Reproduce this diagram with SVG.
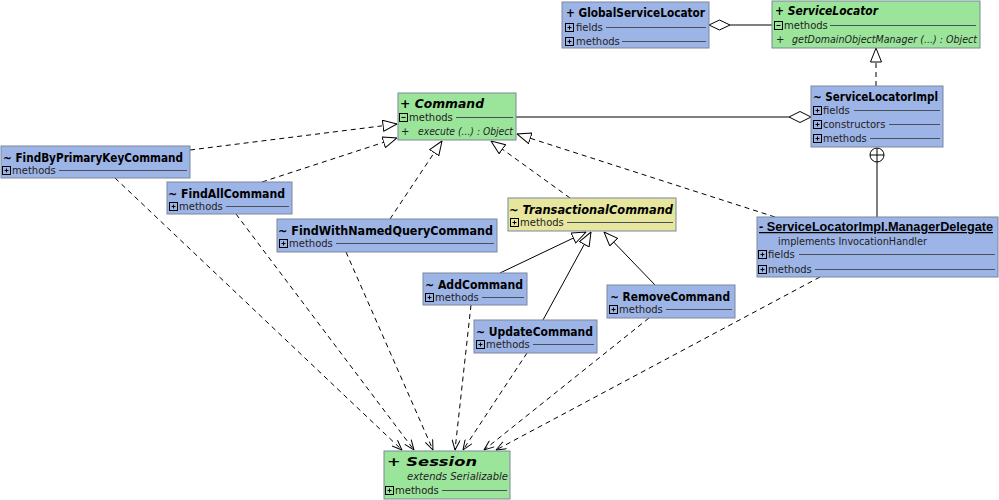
<svg xmlns="http://www.w3.org/2000/svg" width="999" height="500" viewBox="0 0 999 500">
<defs>
<style>
.box{stroke:#7c879c;stroke-width:1}
.blue{fill:#9db4e6}
.green{fill:#9be59b}
.yellow{fill:#e6e69e}
.title{font-family:"DejaVu Sans",sans-serif;font-size:13px;font-weight:bold;fill:#000}
.ital{font-style:italic}
.row{font-family:"DejaVu Sans",sans-serif;font-size:10px;fill:#222}
.sep{stroke:#4a4f5c;stroke-width:1}
.icon{fill:none;stroke:#000;stroke-width:1}
.solid{fill:none;stroke:#000;stroke-width:1}
.dash{fill:none;stroke:#000;stroke-width:1;stroke-dasharray:5,4}
</style>
<marker id="tri" viewBox="0 0 15 12" refX="14.5" refY="6" markerWidth="15" markerHeight="12" markerUnits="userSpaceOnUse" orient="auto">
<path d="M0.5,0.5 L14.5,6 L0.5,11.5 Z" fill="#fff" stroke="#000" stroke-width="1" stroke-dasharray="none"/>
</marker>
<marker id="open" viewBox="0 0 11 9" refX="10.5" refY="4.5" markerWidth="11" markerHeight="9" markerUnits="userSpaceOnUse" orient="auto">
<path d="M0.5,0.5 L10.5,4.5 L0.5,8.5" fill="none" stroke="#000" stroke-width="1" stroke-dasharray="none"/>
</marker>
</defs>
<rect x="0" y="0" width="999" height="500" fill="#fff"/>

<g id="connectors">
<line class="solid" x1="730" y1="25" x2="772" y2="25"/>
<polygon points="709,25 719.5,20 730,25 719.5,30" fill="#fff" stroke="#000"/>
<line class="dash" x1="876" y1="86" x2="876" y2="48" marker-end="url(#tri)"/>
<line class="solid" x1="516" y1="117" x2="789" y2="117"/>
<polygon points="789,117 800,111.5 811,117 800,122.5" fill="#fff" stroke="#000"/>
<line class="solid" x1="877" y1="162" x2="877" y2="217"/>
<circle cx="877" cy="155" r="7" fill="#fff" stroke="#000"/>
<line class="solid" x1="870" y1="155" x2="884" y2="155"/>
<line class="solid" x1="877" y1="148" x2="877" y2="162"/>
<line class="dash" x1="190" y1="150" x2="397" y2="124" marker-end="url(#tri)"/>
<line class="dash" x1="262" y1="182" x2="397" y2="138" marker-end="url(#tri)"/>
<line class="dash" x1="390" y1="219" x2="442" y2="141" marker-end="url(#tri)"/>
<line class="dash" x1="570" y1="198" x2="491" y2="141" marker-end="url(#tri)"/>
<line class="dash" x1="775" y1="217" x2="517" y2="134" marker-end="url(#tri)"/>
<line class="solid" x1="500" y1="273" x2="586" y2="232" marker-end="url(#tri)"/>
<line class="solid" x1="543" y1="320" x2="591" y2="232" marker-end="url(#tri)"/>
<line class="solid" x1="655" y1="285" x2="604" y2="232" marker-end="url(#tri)"/>
<line class="dash" x1="115" y1="178" x2="402" y2="450" marker-end="url(#open)"/>
<line class="dash" x1="236" y1="214" x2="414" y2="450" marker-end="url(#open)"/>
<line class="dash" x1="346" y1="252" x2="433" y2="450" marker-end="url(#open)"/>
<line class="dash" x1="471" y1="305" x2="455" y2="450" marker-end="url(#open)"/>
<line class="dash" x1="527" y1="353" x2="463" y2="450" marker-end="url(#open)"/>
<line class="dash" x1="649" y1="318" x2="484" y2="450" marker-end="url(#open)"/>
<line class="dash" x1="820" y1="277" x2="496" y2="450" marker-end="url(#open)"/>
</g>

<g id="GlobalServiceLocator">
<rect class="box blue" x="562" y="2" width="147" height="46"/>
<text class="title" x="566" y="17" textLength="139" lengthAdjust="spacingAndGlyphs">+ GlobalServiceLocator</text>
<rect class="icon" x="565.5" y="23.5" width="8" height="8"/><path class="icon" d="M567.5,27.5 H571.5 M569.5,25.5 V29.5"/>
<text class="row" x="576" y="31">fields</text>
<line class="sep" x1="606" y1="27.5" x2="706" y2="27.5"/>
<rect class="icon" x="565.5" y="37.5" width="8" height="8"/><path class="icon" d="M567.5,41.5 H571.5 M569.5,39.5 V43.5"/>
<text class="row" x="576" y="45">methods</text>
<line class="sep" x1="622" y1="41.5" x2="706" y2="41.5"/>
</g>

<g id="ServiceLocator">
<rect class="box green" x="772" y="1" width="208" height="47"/>
<text class="title ital" x="775" y="15" textLength="103" lengthAdjust="spacingAndGlyphs">+ ServiceLocator</text>
<rect class="icon" x="774.5" y="21.5" width="8" height="8"/><path class="icon" d="M776.5,25.5 H780.5"/>
<text class="row" x="784" y="29">methods</text>
<line class="sep" x1="830" y1="25.5" x2="976" y2="25.5"/>
<text class="row ital" x="776" y="43">+</text>
<text class="row ital" x="792" y="43" textLength="185" lengthAdjust="spacingAndGlyphs">getDomainObjectManager (...) : Object</text>
</g>

<g id="Command">
<rect class="box green" x="398" y="93" width="118" height="47"/>
<text class="title ital" x="400" y="108" textLength="84" lengthAdjust="spacingAndGlyphs">+ Command</text>
<rect class="icon" x="399.5" y="113.5" width="8" height="8"/><path class="icon" d="M401.5,117.5 H405.5"/>
<text class="row" x="409" y="121">methods</text>
<line class="sep" x1="456" y1="117.5" x2="513" y2="117.5"/>
<text class="row ital" x="401" y="135">+</text>
<text class="row ital" x="418" y="135" textLength="95" lengthAdjust="spacingAndGlyphs">execute (...) : Object</text>
</g>

<g id="ServiceLocatorImpl">
<rect class="box blue" x="811" y="86" width="132" height="61"/>
<text class="title" x="813" y="101" textLength="125" lengthAdjust="spacingAndGlyphs">~ ServiceLocatorImpl</text>
<rect class="icon" x="813.5" y="106.5" width="8" height="8"/><path class="icon" d="M815.5,110.5 H819.5 M817.5,108.5 V112.5"/>
<text class="row" x="823" y="114">fields</text>
<line class="sep" x1="854" y1="110.5" x2="940" y2="110.5"/>
<rect class="icon" x="813.5" y="120.5" width="8" height="8"/><path class="icon" d="M815.5,124.5 H819.5 M817.5,122.5 V126.5"/>
<text class="row" x="823" y="128">constructors</text>
<line class="sep" x1="889" y1="124.5" x2="940" y2="124.5"/>
<rect class="icon" x="813.5" y="134.5" width="8" height="8"/><path class="icon" d="M815.5,138.5 H819.5 M817.5,136.5 V140.5"/>
<text class="row" x="823" y="142">methods</text>
<line class="sep" x1="870" y1="138.5" x2="940" y2="138.5"/>
</g>

<g id="FindByPrimaryKeyCommand">
<rect class="box blue" x="1" y="146" width="189" height="32"/>
<text class="title" x="3" y="162" textLength="180" lengthAdjust="spacingAndGlyphs">~ FindByPrimaryKeyCommand</text>
<rect class="icon" x="2.5" y="166.5" width="8" height="8"/><path class="icon" d="M4.5,170.5 H8.5 M6.5,168.5 V172.5"/>
<text class="row" x="12" y="174">methods</text>
<line class="sep" x1="59" y1="170.5" x2="187" y2="170.5"/>
</g>

<g id="FindAllCommand">
<rect class="box blue" x="167" y="182" width="125" height="32"/>
<text class="title" x="168" y="198" textLength="117" lengthAdjust="spacingAndGlyphs">~ FindAllCommand</text>
<rect class="icon" x="169.5" y="202.5" width="8" height="8"/><path class="icon" d="M171.5,206.5 H175.5 M173.5,204.5 V208.5"/>
<text class="row" x="179" y="210">methods</text>
<line class="sep" x1="226" y1="206.5" x2="289" y2="206.5"/>
</g>

<g id="FindWithNamedQueryCommand">
<rect class="box blue" x="277" y="219" width="220" height="33"/>
<text class="title" x="278" y="235" textLength="215" lengthAdjust="spacingAndGlyphs">~ FindWithNamedQueryCommand</text>
<rect class="icon" x="279.5" y="239.5" width="8" height="8"/><path class="icon" d="M281.5,243.5 H285.5 M283.5,241.5 V245.5"/>
<text class="row" x="289" y="247">methods</text>
<line class="sep" x1="336" y1="243.5" x2="494" y2="243.5"/>
</g>

<g id="TransactionalCommand">
<rect class="box yellow" x="508" y="198" width="168" height="33"/>
<text class="title ital" x="509" y="214" textLength="164" lengthAdjust="spacingAndGlyphs">~ TransactionalCommand</text>
<rect class="icon" x="510.5" y="218.5" width="8" height="8"/><path class="icon" d="M512.5,222.5 H516.5 M514.5,220.5 V224.5"/>
<text class="row" x="520" y="226">methods</text>
<line class="sep" x1="567" y1="222.5" x2="673" y2="222.5"/>
</g>

<g id="AddCommand">
<rect class="box blue" x="423" y="273" width="104" height="32"/>
<text class="title" x="425" y="289" textLength="98" lengthAdjust="spacingAndGlyphs">~ AddCommand</text>
<rect class="icon" x="425.5" y="293.5" width="8" height="8"/><path class="icon" d="M427.5,297.5 H431.5 M429.5,295.5 V299.5"/>
<text class="row" x="435" y="301">methods</text>
<line class="sep" x1="482" y1="297.5" x2="524" y2="297.5"/>
</g>

<g id="UpdateCommand">
<rect class="box blue" x="474" y="320" width="123" height="33"/>
<text class="title" x="476" y="336" textLength="117" lengthAdjust="spacingAndGlyphs">~ UpdateCommand</text>
<rect class="icon" x="476.5" y="340.5" width="8" height="8"/><path class="icon" d="M478.5,344.5 H482.5 M480.5,342.5 V346.5"/>
<text class="row" x="486" y="348">methods</text>
<line class="sep" x1="533" y1="344.5" x2="594" y2="344.5"/>
</g>

<g id="RemoveCommand">
<rect class="box blue" x="607" y="285" width="128" height="33"/>
<text class="title" x="610" y="301" textLength="120" lengthAdjust="spacingAndGlyphs">~ RemoveCommand</text>
<rect class="icon" x="609.5" y="305.5" width="8" height="8"/><path class="icon" d="M611.5,309.5 H615.5 M613.5,307.5 V311.5"/>
<text class="row" x="619" y="313">methods</text>
<line class="sep" x1="666" y1="309.5" x2="732" y2="309.5"/>
</g>

<g id="ManagerDelegate">
<rect class="box blue" x="757" y="217" width="241" height="60"/>
<text x="759" y="231" style="font-family:'Liberation Sans',Arial,sans-serif;font-size:12.5px;font-weight:bold" textLength="234" lengthAdjust="spacingAndGlyphs" text-decoration="underline">- ServiceLocatorImpl.ManagerDelegate</text>
<text class="row" x="778" y="245" textLength="149" lengthAdjust="spacingAndGlyphs">implements  InvocationHandler</text>
<rect class="icon" x="758.5" y="250.5" width="8" height="8"/><path class="icon" d="M760.5,254.5 H764.5 M762.5,252.5 V256.5"/>
<text class="row" x="768" y="258">fields</text>
<line class="sep" x1="799" y1="254.5" x2="995" y2="254.5"/>
<rect class="icon" x="758.5" y="265.5" width="8" height="8"/><path class="icon" d="M760.5,269.5 H764.5 M762.5,267.5 V271.5"/>
<text class="row" x="768" y="273">methods</text>
<line class="sep" x1="815" y1="269.5" x2="995" y2="269.5"/>
</g>

<g id="Session">
<rect class="box green" x="384" y="451" width="126" height="48"/>
<text class="title ital" x="387" y="466" textLength="90" lengthAdjust="spacingAndGlyphs">+ Session</text>
<text class="row ital" x="407" y="480" textLength="101" lengthAdjust="spacingAndGlyphs">extends  Serializable</text>
<rect class="icon" x="385.5" y="486.5" width="8" height="8"/><path class="icon" d="M387.5,490.5 H391.5 M389.5,488.5 V492.5"/>
<text class="row" x="395" y="494">methods</text>
<line class="sep" x1="442" y1="490.5" x2="507" y2="490.5"/>
</g>
</svg>
